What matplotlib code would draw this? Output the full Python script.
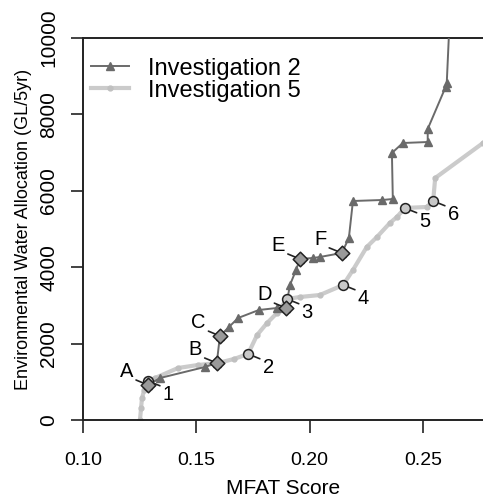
import matplotlib.pyplot as plt

plt.rcParams['font.family'] = ['Liberation Sans', 'DejaVu Sans']

# Investigation 2 (dark, triangles)
inv2_x = [0.1287, 0.134, 0.1538, 0.159, 0.1604, 0.1644, 0.1684, 0.1776, 0.1856, 0.1895,
          0.1913, 0.194, 0.1957, 0.2014, 0.2045, 0.2142, 0.2173, 0.2191, 0.2319, 0.2367,
          0.2363, 0.2411, 0.2521, 0.2521, 0.260, 0.2605, 0.2614, 0.2616]
inv2_y = [916, 1100, 1388, 1492, 2199, 2435, 2670, 2880, 2932, 2932,
          3534, 3927, 4215, 4241, 4267, 4372, 4764, 5733, 5759, 5785,
          6990, 7251, 7277, 7618, 8717, 8822, 10000, 11000]

# Investigation 5 (light, dots)
inv5_x = [0.1251, 0.1256, 0.126, 0.127, 0.1287, 0.1318, 0.1419, 0.1507, 0.1595, 0.1666,
          0.1728, 0.1768, 0.1812, 0.1856, 0.19, 0.1957, 0.2045, 0.2148, 0.2191, 0.2252,
          0.2297, 0.2354, 0.2385, 0.242, 0.2516, 0.2545, 0.2554, 0.2765]
inv5_y = [0, 314, 576, 785, 1021, 1100, 1361, 1440, 1492, 1597,
          1728, 2225, 2539, 2801, 3168, 3220, 3272, 3534, 3927, 4529,
          4791, 5157, 5314, 5550, 5576, 5733, 6335, 7251]

# labelled scenarios
letters = ['A', 'B', 'C', 'D', 'E', 'F']
letter_x = [0.1287, 0.159, 0.1604, 0.1895, 0.1957, 0.2142]
letter_y = [916, 1492, 2199, 2932, 4215, 4372]
numbers = ['1', '2', '3', '4', '5', '6']
number_x = [0.1287, 0.1728, 0.19, 0.2148, 0.242, 0.2545]
number_y = [1021, 1728, 3168, 3534, 5550, 5733]

fig = plt.figure(figsize=(4.83, 5.0), dpi=100)
ax = fig.add_axes([0.172, 0.16, 0.828, 0.764])

ax.plot(inv5_x, inv5_y, color='#cbcbcb', linewidth=3, marker='o', markersize=3.5,
        markerfacecolor='#c0c0c0', markeredgecolor='#c0c0c0', label='Investigation 5', zorder=2)
ax.plot(inv2_x, inv2_y, color='#6a6a6a', linewidth=1.4, marker='^', markersize=5.5,
        markevery=list(range(len(inv2_x) - 2)),
        markerfacecolor='#6a6a6a', markeredgecolor='#6a6a6a', label='Investigation 2', zorder=3)

ax.scatter(number_x, number_y, s=50, marker='o', facecolor='#c8c8c8', edgecolor='#222222',
           linewidth=1.1, zorder=4)
ax.scatter(letter_x, letter_y, s=55, marker='D', facecolor='#9a9a9a', edgecolor='#222222',
           linewidth=1.1, zorder=5)

for t, x, y in zip(letters, letter_x, letter_y):
    ax.annotate(t, (x, y), xytext=(-15.5, 10), textcoords='offset points', fontsize=14.5,
                ha='center', va='center',
                arrowprops=dict(arrowstyle='-', color='#222222', lw=1.2, relpos=(0.8, 0.15),
                                shrinkA=0, shrinkB=2))
for t, x, y in zip(numbers, number_x, number_y):
    ax.annotate(t, (x, y), xytext=(14.5, -9.5), textcoords='offset points', fontsize=14.5,
                ha='center', va='center',
                arrowprops=dict(arrowstyle='-', color='#222222', lw=1.2, relpos=(0.15, 0.85),
                                shrinkA=0, shrinkB=2))

ax.set_xlim(0.10, 0.2765)
ax.set_ylim(0, 10000)
ax.set_xticks([0.10, 0.15, 0.20, 0.25])
ax.set_xticklabels(['0.10', '0.15', '0.20', '0.25'])
ax.set_yticks([0, 2000, 4000, 6000, 8000, 10000])
ax.set_yticklabels(['0', '2000', '4000', '6000', '8000', '10000'], rotation=90, va='center')
ax.tick_params(direction='out', length=9, width=1.2, color='#222222')
ax.tick_params(axis='x', pad=14, labelsize=14)
ax.tick_params(axis='y', pad=9, labelsize=15)
ax.spines['right'].set_visible(False)
for s in ax.spines.values():
    s.set_linewidth(1.4)
    s.set_color('#222222')

ax.set_xlabel('MFAT Score', fontsize=15, labelpad=7)
ax.set_ylabel('Environmental Water Allocation (GL/5yr)', fontsize=13, labelpad=5)

h, l = ax.get_legend_handles_labels()
ax.legend([h[1], h[0]], [l[1], l[0]], loc='upper left', frameon=False, fontsize=17,
          handlelength=1.6, borderaxespad=0, bbox_to_anchor=(0.002, 0.967),
          borderpad=0.3, labelspacing=0.0, handletextpad=0.8)

fig.savefig('out.png', dpi=100)
